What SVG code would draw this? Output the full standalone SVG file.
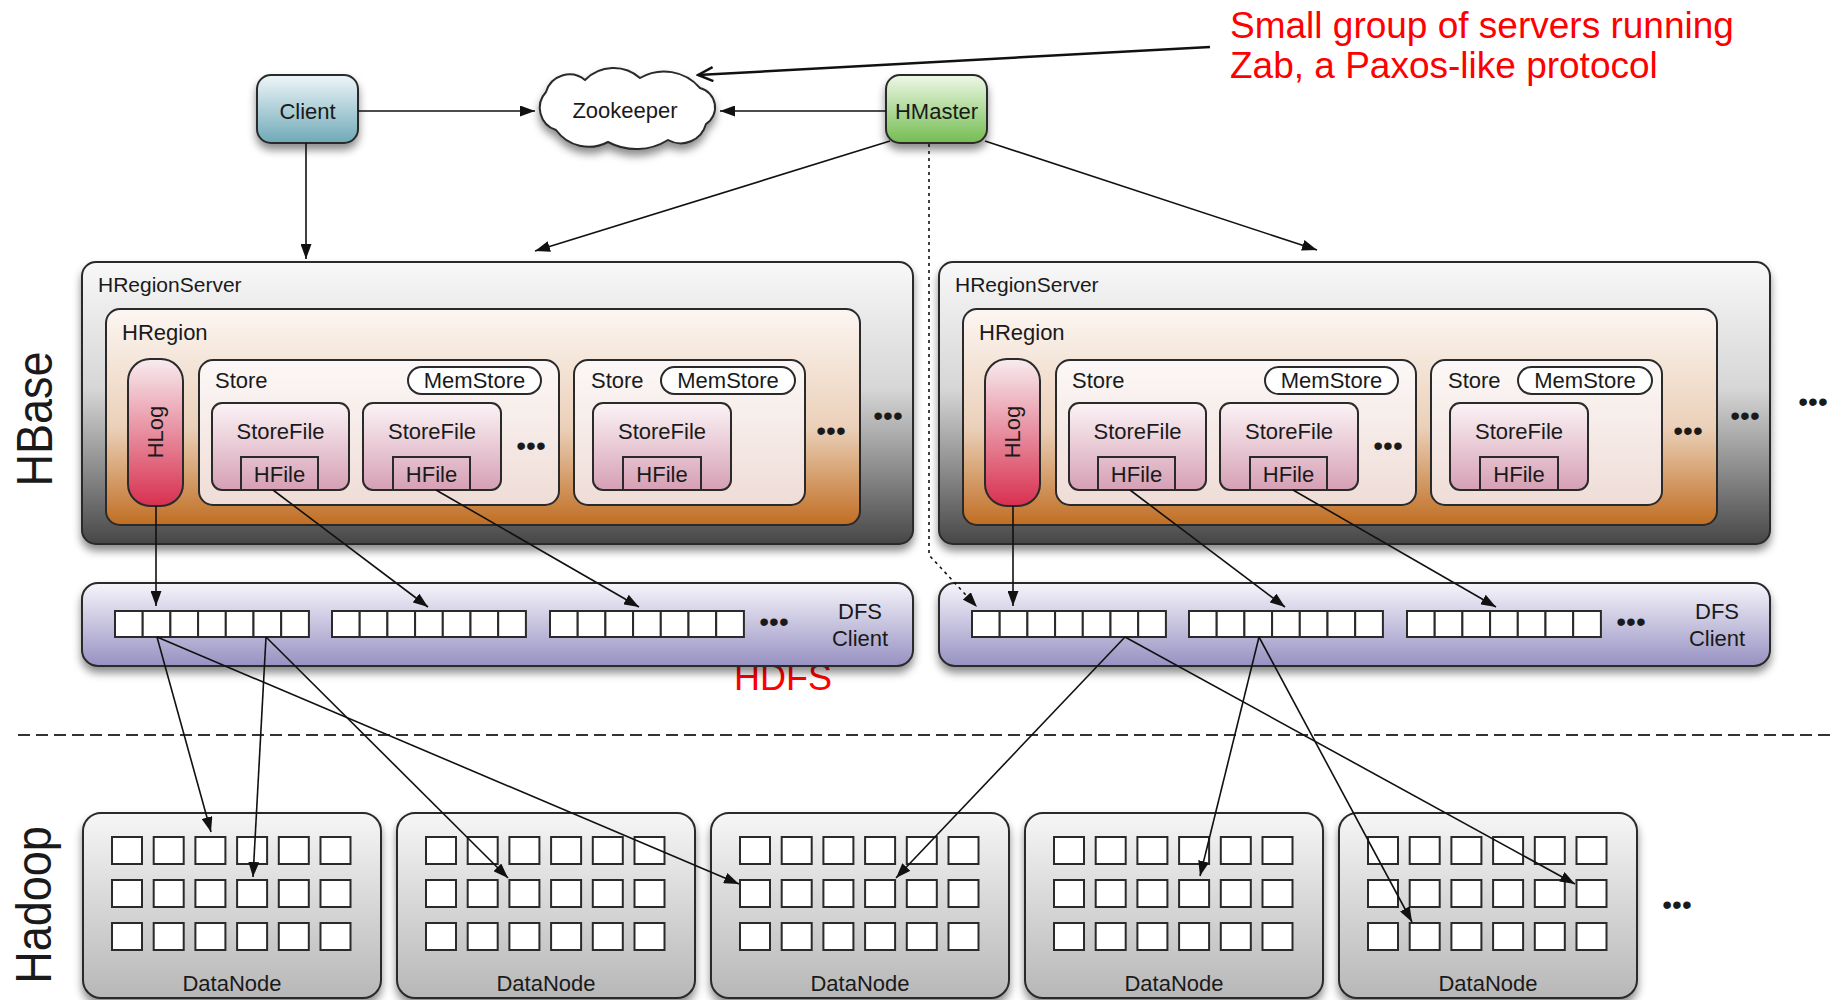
<svg xmlns="http://www.w3.org/2000/svg" xmlns:xlink="http://www.w3.org/1999/xlink" width="1839" height="1000" viewBox="0 0 1839 1000">
<style>
text{font-family:"Liberation Sans",Arial,sans-serif;fill:#1a1a1a}
.t22{font-size:22px}
.mid{text-anchor:middle}
.red{fill:#ff0000;font-size:37px}
.big{font-size:45px}
.dots{font-size:28px;text-anchor:middle;fill:#1a1a1a}
.bd{stroke:#2a2a2a;stroke-width:2}
.cell{fill:#ffffff;stroke:#2a2a2a;stroke-width:2}
.con{fill:none;stroke:#111;stroke-width:1.6}
</style>
<defs>
<filter id="sh" x="-10%" y="-15%" width="120%" height="150%">
<feDropShadow dx="0" dy="6" stdDeviation="4" flood-color="#000" flood-opacity="0.45"/>
</filter>
<linearGradient id="gClient" x1="0" y1="0" x2="0" y2="1"><stop offset="0" stop-color="#eef6f8"/><stop offset="1" stop-color="#6fa9b8"/></linearGradient>
<linearGradient id="gMaster" x1="0" y1="0" x2="0" y2="1"><stop offset="0" stop-color="#eef8e6"/><stop offset="1" stop-color="#74bc52"/></linearGradient>
<linearGradient id="gRS" x1="0" y1="0" x2="0" y2="1"><stop offset="0" stop-color="#f8f8f8"/><stop offset="0.45" stop-color="#d6d6d6"/><stop offset="1" stop-color="#474747"/></linearGradient>
<linearGradient id="gReg" x1="0" y1="0" x2="0" y2="1"><stop offset="0" stop-color="#fcf6f2"/><stop offset="0.55" stop-color="#ebd0b9"/><stop offset="1" stop-color="#c06e22"/></linearGradient>
<linearGradient id="gStore" x1="0" y1="0" x2="0" y2="1"><stop offset="0" stop-color="#fcf8f7"/><stop offset="1" stop-color="#efdcd6"/></linearGradient>
<linearGradient id="gSF" x1="0" y1="0" x2="0" y2="1"><stop offset="0" stop-color="#fbf4f6"/><stop offset="1" stop-color="#d69fb4"/></linearGradient>
<linearGradient id="gLog" x1="0" y1="0" x2="0" y2="1"><stop offset="0" stop-color="#f7ecef"/><stop offset="1" stop-color="#d8304f"/></linearGradient>
<linearGradient id="gDFS" x1="0" y1="0" x2="0" y2="1"><stop offset="0" stop-color="#f6f5fb"/><stop offset="1" stop-color="#9791c2"/></linearGradient>
<linearGradient id="gDN" x1="0" y1="0" x2="0" y2="1"><stop offset="0" stop-color="#f6f6f6"/><stop offset="1" stop-color="#b7b7b7"/></linearGradient>
<marker id="ah" markerUnits="userSpaceOnUse" markerWidth="15" markerHeight="11" refX="15" refY="5.5" orient="auto"><path d="M0,0 L15,5.5 L0,11 z" fill="#111"/></marker>
<marker id="oh" markerUnits="userSpaceOnUse" markerWidth="18" markerHeight="16" refX="16" refY="8" orient="auto"><path d="M1,1 L16,8 L1,15" fill="none" stroke="#111" stroke-width="2.5"/></marker>
<g id="blk">
<rect class="cell" x="0" y="0" width="27.7" height="26"/><rect class="cell" x="27.7" y="0" width="27.7" height="26"/><rect class="cell" x="55.4" y="0" width="27.7" height="26"/><rect class="cell" x="83.1" y="0" width="27.7" height="26"/><rect class="cell" x="110.8" y="0" width="27.7" height="26"/><rect class="cell" x="138.5" y="0" width="27.7" height="26"/><rect class="cell" x="166.2" y="0" width="27.7" height="26"/>
</g>
<g id="row">
<rect class="cell" x="0" y="0" width="30" height="27"/><rect class="cell" x="41.7" y="0" width="30" height="27"/><rect class="cell" x="83.4" y="0" width="30" height="27"/><rect class="cell" x="125.1" y="0" width="30" height="27"/><rect class="cell" x="166.8" y="0" width="30" height="27"/><rect class="cell" x="208.5" y="0" width="30" height="27"/>
</g>
<g id="grid"><use href="#row" y="0"/><use href="#row" y="43"/><use href="#row" y="86"/></g>
</defs>

<rect width="1839" height="1000" fill="#ffffff"/>

<!-- side labels -->
<text class="big" transform="translate(52,419) rotate(-90) scale(1,1.1)" text-anchor="middle">HBase</text>
<text class="big" transform="translate(51,905) rotate(-90) scale(1,1.1)" text-anchor="middle">Hadoop</text>

<!-- annotation -->
<g id="annotation">
<text class="red" x="1230" y="38">Small group of servers running</text>
<text class="red" x="1230" y="78">Zab, a Paxos-like protocol</text>
<text class="red" x="734" y="690" style="font-size:36px">HDFS</text>
</g>

<g id="separator">
<line x1="18" y1="735" x2="1832" y2="735" stroke="#333" stroke-width="2" stroke-dasharray="12 6"/>
</g>

<!-- top nodes -->
<g id="client">
<rect x="257" y="75" width="101" height="68" rx="14" fill="url(#gClient)" class="bd" filter="url(#sh)"/>
<text class="t22 mid" x="307.5" y="119">Client</text>
</g>
<g id="zookeeper">
<path d="M546,92 A24.4,24.4 0 0 1 585,80 A39.9,39.9 0 0 1 640,78 A47.5,47.5 0 0 1 700,88 A19.9,19.9 0 0 1 706,124 A26.2,26.2 0 0 1 668,140 A60,60 0 0 1 608,142 A40.6,40.6 0 0 1 556,130 A23.3,23.3 0 0 1 546,92 Z" fill="#ffffff" class="bd" filter="url(#sh)"/>
<text class="t22 mid" x="625" y="118">Zookeeper</text>
</g>
<g id="hmaster">
<rect x="886" y="75" width="101" height="68" rx="14" fill="url(#gMaster)" class="bd" filter="url(#sh)"/>
<text class="t22 mid" x="936.5" y="119">HMaster</text>
</g>

<!-- left region server -->
<g id="regionserver-left">
<rect x="82" y="262" width="831" height="282" rx="14" fill="url(#gRS)" class="bd" filter="url(#sh)"/>
<text x="98" y="292" style="font-size:21px">HRegionServer</text>
<rect x="106" y="309" width="754" height="216" rx="14" fill="url(#gReg)" class="bd"/>
<text class="t22" x="122" y="340">HRegion</text>
<rect x="128" y="359" width="55" height="147" rx="22" fill="url(#gLog)" class="bd"/>
<text class="t22 mid" transform="translate(163,432) rotate(-90)">HLog</text>
<rect x="199" y="360" width="360" height="145" rx="14" fill="url(#gStore)" class="bd"/>
<text class="t22" x="215" y="388">Store</text>
<rect x="408" y="367" width="133" height="27" rx="13.5" fill="#ffffff" class="bd"/>
<text class="t22 mid" x="474.5" y="388">MemStore</text>
<rect x="212" y="403" width="137" height="87" rx="10" fill="url(#gSF)" class="bd"/>
<text class="t22 mid" x="280.5" y="439">StoreFile</text>
<rect x="241" y="457" width="77" height="33" fill="none" class="bd"/>
<text class="t22 mid" x="279.5" y="482">HFile</text>
<rect x="363" y="403" width="138" height="87" rx="10" fill="url(#gSF)" class="bd"/>
<text class="t22 mid" x="432" y="439">StoreFile</text>
<rect x="393" y="457" width="77" height="33" fill="none" class="bd"/>
<text class="t22 mid" x="431.5" y="482">HFile</text>
<text class="dots" x="531" y="455">•••</text>
<rect x="574" y="360" width="231" height="145" rx="14" fill="url(#gStore)" class="bd"/>
<text class="t22" x="591" y="388">Store</text>
<rect x="661" y="367" width="134" height="27" rx="13.5" fill="#ffffff" class="bd"/>
<text class="t22 mid" x="728" y="388">MemStore</text>
<rect x="593" y="403" width="138" height="87" rx="10" fill="url(#gSF)" class="bd"/>
<text class="t22 mid" x="662" y="439">StoreFile</text>
<rect x="623" y="457" width="78" height="33" fill="none" class="bd"/>
<text class="t22 mid" x="662" y="482">HFile</text>
<text class="dots" x="831" y="440">•••</text>
<text class="dots" x="888" y="425">•••</text>
</g>

<!-- right region server -->
<g id="regionserver-right">
<rect x="939" y="262" width="831" height="282" rx="14" fill="url(#gRS)" class="bd" filter="url(#sh)"/>
<text x="955" y="292" style="font-size:21px">HRegionServer</text>
<rect x="963" y="309" width="754" height="216" rx="14" fill="url(#gReg)" class="bd"/>
<text class="t22" x="979" y="340">HRegion</text>
<rect x="985" y="359" width="55" height="147" rx="22" fill="url(#gLog)" class="bd"/>
<text class="t22 mid" transform="translate(1020,432) rotate(-90)">HLog</text>
<rect x="1056" y="360" width="360" height="145" rx="14" fill="url(#gStore)" class="bd"/>
<text class="t22" x="1072" y="388">Store</text>
<rect x="1265" y="367" width="133" height="27" rx="13.5" fill="#ffffff" class="bd"/>
<text class="t22 mid" x="1331.5" y="388">MemStore</text>
<rect x="1069" y="403" width="137" height="87" rx="10" fill="url(#gSF)" class="bd"/>
<text class="t22 mid" x="1137.5" y="439">StoreFile</text>
<rect x="1098" y="457" width="77" height="33" fill="none" class="bd"/>
<text class="t22 mid" x="1136.5" y="482">HFile</text>
<rect x="1220" y="403" width="138" height="87" rx="10" fill="url(#gSF)" class="bd"/>
<text class="t22 mid" x="1289" y="439">StoreFile</text>
<rect x="1250" y="457" width="77" height="33" fill="none" class="bd"/>
<text class="t22 mid" x="1288.5" y="482">HFile</text>
<text class="dots" x="1388" y="455">•••</text>
<rect x="1431" y="360" width="231" height="145" rx="14" fill="url(#gStore)" class="bd"/>
<text class="t22" x="1448" y="388">Store</text>
<rect x="1518" y="367" width="134" height="27" rx="13.5" fill="#ffffff" class="bd"/>
<text class="t22 mid" x="1585" y="388">MemStore</text>
<rect x="1450" y="403" width="138" height="87" rx="10" fill="url(#gSF)" class="bd"/>
<text class="t22 mid" x="1519" y="439">StoreFile</text>
<rect x="1480" y="457" width="78" height="33" fill="none" class="bd"/>
<text class="t22 mid" x="1519" y="482">HFile</text>
<text class="dots" x="1688" y="440">•••</text>
<text class="dots" x="1745" y="425">•••</text>
</g>
<g id="more-servers"><text class="dots" x="1813" y="411">•••</text></g>

<!-- DFS clients -->
<g id="dfs-left">
<rect x="82" y="583" width="831" height="83" rx="16" fill="url(#gDFS)" class="bd" filter="url(#sh)"/>
<use href="#blk" x="115" y="611"/><use href="#blk" x="332" y="611"/><use href="#blk" x="550" y="611"/>
<text class="dots" x="774" y="631">•••</text>
<text class="t22 mid" x="860" y="619">DFS</text>
<text class="t22 mid" x="860" y="646">Client</text>
</g>
<g id="dfs-right">
<rect x="939" y="583" width="831" height="83" rx="16" fill="url(#gDFS)" class="bd" filter="url(#sh)"/>
<use href="#blk" x="972" y="611"/><use href="#blk" x="1189" y="611"/><use href="#blk" x="1407" y="611"/>
<text class="dots" x="1631" y="631">•••</text>
<text class="t22 mid" x="1717" y="619">DFS</text>
<text class="t22 mid" x="1717" y="646">Client</text>
</g>

<!-- DataNodes -->
<g id="datanode-1"><rect x="83" y="813" width="298" height="185" rx="18" fill="url(#gDN)" class="bd" filter="url(#sh)"/><use href="#grid" x="112" y="837"/><text class="t22 mid" x="232" y="991">DataNode</text></g>
<g id="datanode-2"><rect x="397" y="813" width="298" height="185" rx="18" fill="url(#gDN)" class="bd" filter="url(#sh)"/><use href="#grid" x="426" y="837"/><text class="t22 mid" x="546" y="991">DataNode</text></g>
<g id="datanode-3"><rect x="711" y="813" width="298" height="185" rx="18" fill="url(#gDN)" class="bd" filter="url(#sh)"/><use href="#grid" x="740" y="837"/><text class="t22 mid" x="860" y="991">DataNode</text></g>
<g id="datanode-4"><rect x="1025" y="813" width="298" height="185" rx="18" fill="url(#gDN)" class="bd" filter="url(#sh)"/><use href="#grid" x="1054" y="837"/><text class="t22 mid" x="1174" y="991">DataNode</text></g>
<g id="datanode-5"><rect x="1339" y="813" width="298" height="185" rx="18" fill="url(#gDN)" class="bd" filter="url(#sh)"/><use href="#grid" x="1368" y="837"/><text class="t22 mid" x="1488" y="991">DataNode</text></g>
<g id="more-datanodes"><text class="dots" x="1677" y="914">•••</text></g>

<!-- connectors -->
<g id="connectors">
<path class="con" d="M358,111 L535,111" marker-end="url(#ah)"/>
<path class="con" d="M886,111 L720,111" marker-end="url(#ah)"/>
<path class="con" d="M1210,47 L698,75" style="stroke-width:2.5" marker-end="url(#oh)"/>
<path class="con" d="M306,143 L306,259" marker-end="url(#ah)"/>
<path class="con" d="M890,141 L535,251" marker-end="url(#ah)"/>
<path class="con" d="M985,141 L1317,250" marker-end="url(#ah)"/>
<path class="con" d="M929,144 L929,555 L977,607" stroke-dasharray="3 4" marker-end="url(#ah)"/>
<path class="con" d="M156,506 L156,606" marker-end="url(#ah)"/>
<path class="con" d="M273,490 L428,607" marker-end="url(#ah)"/>
<path class="con" d="M436,490 L639,607" marker-end="url(#ah)"/>
<path class="con" d="M1013,506 L1013,606" marker-end="url(#ah)"/>
<path class="con" d="M1130,490 L1285,607" marker-end="url(#ah)"/>
<path class="con" d="M1293,490 L1496,607" marker-end="url(#ah)"/>
<path class="con" d="M157,637 L211,832" marker-end="url(#ah)"/>
<path class="con" d="M157,637 L739,884" marker-end="url(#ah)"/>
<path class="con" d="M266,637 L253,877" marker-end="url(#ah)"/>
<path class="con" d="M266,637 L508,878" marker-end="url(#ah)"/>
<path class="con" d="M1125,637 L896,878" marker-end="url(#ah)"/>
<path class="con" d="M1125,637 L1575,884" marker-end="url(#ah)"/>
<path class="con" d="M1259,637 L1200,876" marker-end="url(#ah)"/>
<path class="con" d="M1259,637 L1412,922" marker-end="url(#ah)"/>
</g>
</svg>
